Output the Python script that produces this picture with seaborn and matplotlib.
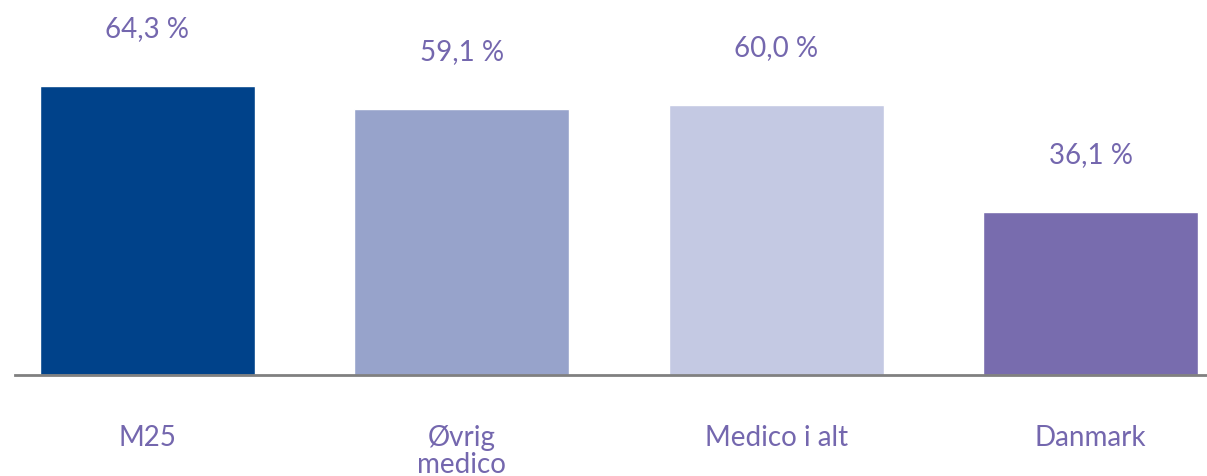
import pandas as pd
import matplotlib
matplotlib.use("Agg")
import matplotlib.pyplot as plt
import seaborn as sns

# data
categories = ["M25", "Øvrig\nmedico", "Medico i alt", "Danmark"]
values = [64.3, 59.1, 60.0, 36.1]
bar_colors = ["#00428A", "#97A3CB", "#C4C9E3", "#786CAE"]
text_color = "#7467AE"

df = pd.DataFrame({"kategori": categories, "andel": values})

sns.set_style("white")
plt.rcParams["font.family"] = ["Lato", "DejaVu Sans"]

fig = plt.figure(figsize=(12.07, 4.76), dpi=100)
ax = fig.add_axes([15 / 1207, 101 / 476, 1192 / 1207, 375 / 476])

sns.barplot(data=df, x="kategori", y="andel", hue="kategori",
            palette=bar_colors, width=0.684, dodge=False, legend=False,
            saturation=1, ax=ax)

# værdi-etiketter over søjlerne
for i, v in enumerate(values):
    label = f"{v:.1f}".replace(".", ",") + " %"
    ax.annotate(label, (i, v), xytext=(0, 41), textcoords="offset points",
                ha="center", va="center", fontsize=20, color=text_color)

ax.set_xlim(-0.42, 3.37)
ax.set_ylim(0, 83.3)
ax.set_xlabel("")
ax.set_ylabel("")
ax.set_yticks([])
ax.tick_params(axis="x", length=0, pad=36, labelsize=20, labelcolor=text_color)
for lbl in ax.get_xticklabels():
    lbl.set_verticalalignment("top")
    lbl.set_linespacing(1.05)

for side in ["top", "right", "left"]:
    ax.spines[side].set_visible(False)
ax.spines["bottom"].set_color("#808080")
ax.spines["bottom"].set_linewidth(2)

plt.savefig("out.png", dpi=100)
